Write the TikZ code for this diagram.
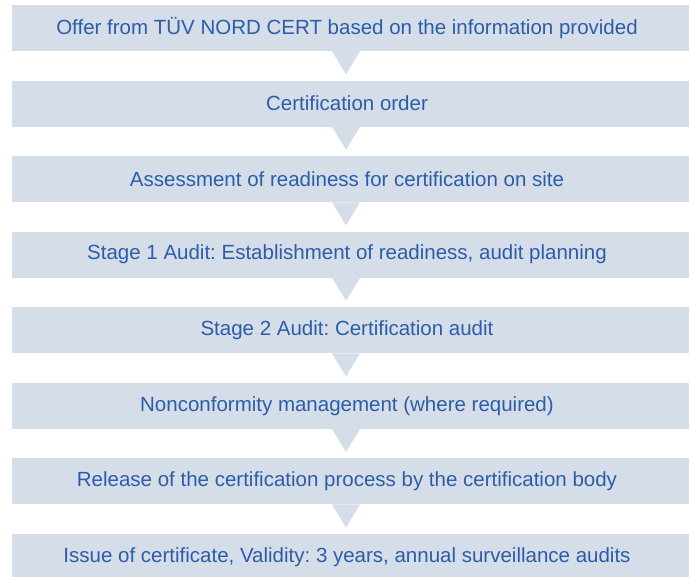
\documentclass[tikz,border=0pt]{standalone}
\usepackage{fontspec}
\setmainfont{Liberation Sans}
\usepackage{tikz}
\usetikzlibrary{positioning}

\definecolor{barfill}{HTML}{D5DDE9}
\definecolor{bartext}{HTML}{2C5DA8}

\begin{document}
\frenchspacing
\begin{tikzpicture}[
    node distance=29.15pt,
    stepbar/.style={rectangle, fill=barfill, minimum width=677pt, minimum height=46pt,
        inner sep=0pt, text=bartext, font=\fontsize{20.5}{23}\selectfont,
        execute at end node=\hspace*{7pt}},
    tip/.style={fill=barfill}
]
\useasboundingbox (0,0) rectangle (689pt,-577pt);

% Process steps
\node[stepbar] (s1) at (350.5pt,-28pt) {Offer from TÜV NORD CERT based on the information provided};
\node[stepbar, below=of s1] (s2) {Certification order};
\node[stepbar, below=of s2] (s3) {Assessment of readiness for certification on site};
\node[stepbar, below=of s3] (s4) {Stage 1 Audit: Establishment of readiness, audit planning};
\node[stepbar, below=of s4] (s5) {Stage 2 Audit: Certification audit};
\node[stepbar, below=of s5] (s6) {Nonconformity management (where required)};
\node[stepbar, below=of s6] (s7) {Release of the certification process by the certification body};
\node[stepbar, below=of s7] (s8) {Issue of certificate, Validity: 3 years, annual surveillance audits};

% Arrow heads between the steps
\foreach \i in {1,...,7} {
  \fill[tip] ([xshift=-18.5pt]s\i.south) -- ([xshift=9.5pt]s\i.south)
    -- ([xshift=-4.5pt,yshift=-23pt]s\i.south) -- cycle;
}

\end{tikzpicture}
\end{document}
